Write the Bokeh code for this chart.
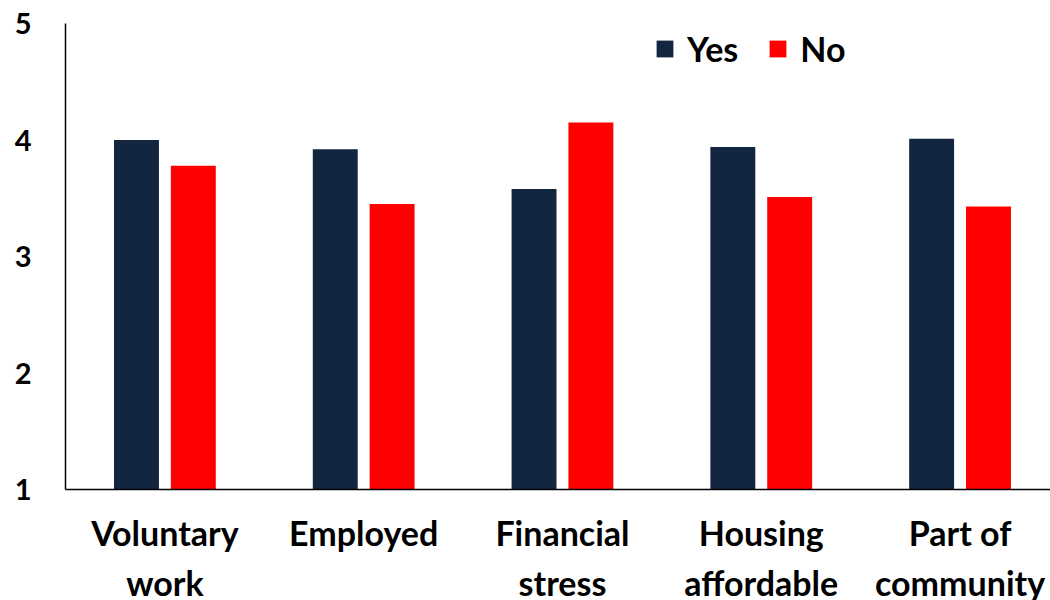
from bokeh.plotting import figure
from bokeh.models import ColumnDataSource, Range1d, FixedTicker, Legend, LegendItem
from bokeh.transform import dodge
from bokeh.embed import file_html
from bokeh.resources import INLINE

categories = ["Voluntary\nwork", "Employed", "Financial\nstress", "Housing\naffordable", "Part of\ncommunity"]
yes_values = [4.00, 3.92, 3.58, 3.94, 4.01]
no_values = [3.78, 3.45, 4.15, 3.51, 3.43]
y_ticks = [1, 2, 3, 4, 5]

NAVY = "#12263F"
RED = "#FF0000"
FONT = "Lato"

positions = list(range(len(categories)))
source = ColumnDataSource(dict(x=positions, yes=yes_values, no=no_values))

p = figure(
    frame_width=985, frame_height=466,
    min_border_left=65, min_border_top=23, min_border_right=0, min_border_bottom=60,
    x_range=Range1d(-0.5, 4.455), y_range=Range1d(1, 5),
    output_backend="svg", toolbar_location=None,
)
p.outline_line_color = None
p.xgrid.grid_line_color = None
p.ygrid.grid_line_color = None
p.background_fill_color = "white"
p.border_fill_color = "white"

r_yes = p.vbar(x=dodge("x", -0.143), top="yes", bottom=1, width=0.226, source=source,
               fill_color=NAVY, line_color=None)
r_no = p.vbar(x=dodge("x", 0.143), top="no", bottom=1, width=0.226, source=source,
              fill_color=RED, line_color=None)

# x axis
p.xaxis.ticker = FixedTicker(ticks=positions)
p.xaxis.major_label_overrides = {i: c for i, c in zip(positions, categories)}
p.xaxis.major_tick_line_color = None
p.xaxis.minor_tick_line_color = None
p.xaxis.major_tick_out = 0
p.xaxis.major_tick_in = 0
p.xaxis.axis_line_color = "black"
p.xaxis.axis_line_width = 1.5
p.xaxis.major_label_text_font = FONT
p.xaxis.major_label_text_font_style = "bold"
p.xaxis.major_label_text_font_size = "34px"
p.xaxis.major_label_text_color = "black"
p.xaxis.major_label_text_line_height = 1.22
p.xaxis.major_label_standoff = 22

# y axis
p.yaxis.ticker = FixedTicker(ticks=y_ticks)
p.yaxis.major_tick_line_color = None
p.yaxis.minor_tick_line_color = None
p.yaxis.major_tick_out = 0
p.yaxis.major_tick_in = 0
p.yaxis.axis_line_color = "black"
p.yaxis.axis_line_width = 1.5
p.yaxis.major_label_text_font = FONT
p.yaxis.major_label_text_font_style = "bold"
p.yaxis.major_label_text_font_size = "29px"
p.yaxis.major_label_text_color = "black"
p.yaxis.major_label_standoff = 34

legend = Legend(
    items=[LegendItem(label="Yes", renderers=[r_yes]), LegendItem(label="No", renderers=[r_no])],
    orientation="horizontal", location=(589, 420),
    glyph_width=21, glyph_height=21, label_standoff=12, spacing=29,
    padding=0, margin=0, border_line_color=None, background_fill_alpha=0,
    label_text_font=FONT, label_text_font_style="bold", label_text_font_size="34px",
    label_text_color="black",
)
p.add_layout(legend, "center")

open("out.html", "w").write(file_html(p, INLINE))
